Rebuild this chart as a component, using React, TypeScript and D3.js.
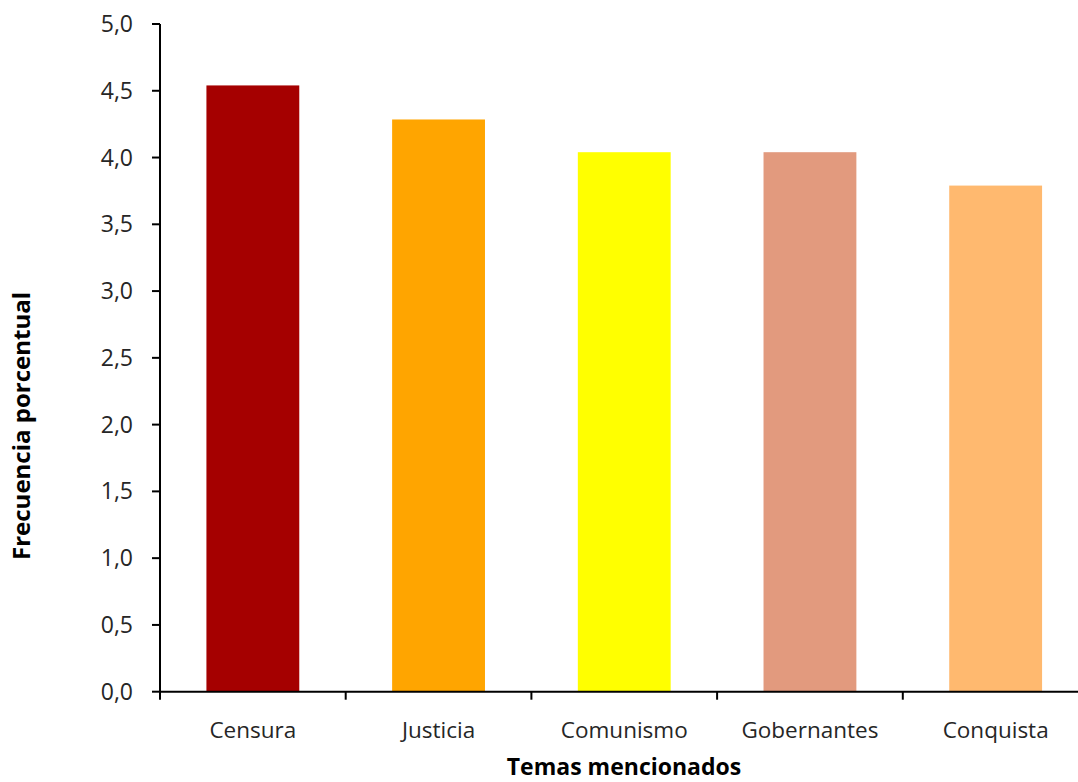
import React from "react";
import * as d3 from "d3";

const categories = ["Censura", "Justicia", "Comunismo", "Gobernantes", "Conquista"];
const values = [4.54, 4.285, 4.04, 4.04, 3.79];
const colors = ["#A50000", "#FFA500", "#FFFF00", "#E29A7E", "#FFB96F"];
const yTicks = [0, 0.5, 1, 1.5, 2, 2.5, 3, 3.5, 4, 4.5, 5];
const yTitle = "Frecuencia porcentual";
const xTitle = "Temas mencionados";

const W = 1078;
const H = 782;
const left = 160;
const right = 1088.5;
const top = 24;
const bottom = 691.7;
const font = "'Open Sans', sans-serif";
const textColor = "#262626";

export default function App() {
  const x = d3.scaleBand<string>().domain(categories).range([left, right]).paddingInner(0.5).paddingOuter(0.25);
  const xb = d3.scaleBand<string>().domain(categories).range([left, right]);
  const y = d3.scaleLinear().domain([0, 5]).range([bottom, top]);
  const fmt = (v: number) => d3.format(".1f")(v).replace(".", ",");
  return (
    <svg width={W} height={H} style={{ position: "absolute", left: 0, top: 0, background: "#fff" }}>
      {categories.map((c, i) => (
        <rect key={c} x={x(c)} y={y(values[i])} width={x.bandwidth()} height={y(0) - y(values[i])} fill={colors[i]} />
      ))}
      <line x1={left} x2={left} y1={top} y2={bottom} stroke="#000" strokeWidth={2} />
      {yTicks.map((t) => (
        <g key={t}>
          <line x1={left - 8} x2={left} y1={y(t)} y2={y(t)} stroke="#000" strokeWidth={2} />
          <text x={133} y={y(t)} dy="0.35em" textAnchor="end" fontFamily={font} fontSize={23} fill={textColor}>
            {fmt(t)}
          </text>
        </g>
      ))}
      <line x1={left - 1} x2={W} y1={bottom} y2={bottom} stroke="#000" strokeWidth={2} />
      {categories.map((c) => (
        <line key={"t" + c} x1={xb(c)} x2={xb(c)} y1={bottom} y2={bottom + 8} stroke="#000" strokeWidth={2} />
      ))}
      {categories.map((c) => (
        <text key={"l" + c} x={(x(c) as number) + x.bandwidth() / 2} y={730} dy="0.35em" textAnchor="middle" fontFamily={font} fontSize={22.5} fill={textColor}>
          {c}
        </text>
      ))}
      <text x={624} y={767} dy="0.35em" textAnchor="middle" fontFamily={font} fontSize={23} fontWeight="bold" fill="#000">
        {xTitle}
      </text>
      <text transform={`translate(22,426) rotate(-90)`} dy="0.35em" textAnchor="middle" fontFamily={font} fontSize={24} fontWeight="bold" fill="#000">
        {yTitle}
      </text>
    </svg>
  );
}
